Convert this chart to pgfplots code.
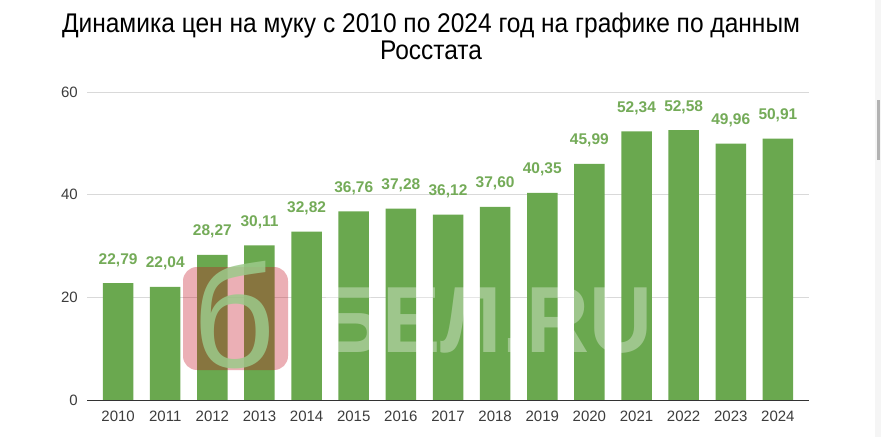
\documentclass[border=0pt]{standalone}
\usepackage{pgfplots}
\pgfplotsset{compat=1.18}
\usepackage{fontspec}
\setmainfont{Liberation Sans}
\usepackage{graphicx}
\definecolor{barg}{HTML}{6AA84F}
\definecolor{labg}{HTML}{74AB58}
\definecolor{tickc}{HTML}{3C3C3C}
\definecolor{gridc}{HTML}{D9D9D9}
\definecolor{axc}{HTML}{333333}
\definecolor{logored}{RGB}{195,15,31}
\definecolor{logob}{HTML}{9CC98A}
\pgfplotstableread{
x y lab
0 22.79 22,79
1 22.04 22,04
2 28.27 28,27
3 30.11 30,11
4 32.82 32,82
5 36.76 36,76
6 37.28 37,28
7 36.12 36,12
8 37.60 37,60
9 40.35 40,35
10 45.99 45,99
11 52.34 52,34
12 52.58 52,58
13 49.96 49,96
14 50.91 50,91
}\datatable
\begin{document}
\begin{tikzpicture}[x=1pt,y=1pt]
\useasboundingbox (0,0) rectangle (881,437);
\fill[white] (0,0) rectangle (881,437);
\begin{axis}[
  at={(87pt,37pt)}, anchor=south west,
  scale only axis, width=722pt, height=308pt,
  ybar, bar width=30.5pt,
  xmin=-0.66, xmax=14.66, ymin=0, ymax=60,
  ytick={0,20,40,60},
  xtick={0,...,14},
  xticklabels={2010,2011,2012,2013,2014,2015,2016,2017,2018,2019,2020,2021,2022,2023,2024},
  axis line style={draw=none},
  major tick length=0pt,
  ymajorgrids, grid style={gridc, line width=1pt},
  /pgf/number format/assume math mode=true,
  tick label style={font=\fontsize{15}{18}\selectfont, text=tickc, inner sep=0pt},
  yticklabel style={anchor=east, xshift=-9pt},
  xticklabel style={anchor=north, yshift=-11pt},
  clip=false,
  nodes near coords,
  point meta=explicit symbolic,
  every node near coord/.append style={font=\fontsize{15.5}{18}\selectfont\bfseries, text=labg, anchor=base, inner sep=0pt, yshift=19pt},
]
\addplot[fill=barg, draw=none] table[x=x, y=y, meta=lab] {\datatable};
\draw[axc, line width=1pt] (axis cs:-0.66,0) -- (axis cs:14.66,0);
\end{axis}
% title
\node[anchor=base, inner sep=0pt] at (431,404) {\resizebox{738pt}{\height}{\fontsize{27}{30}\selectfont Динамика цен на муку с 2010 по 2024 год на графике по данным}};
\node[anchor=base, inner sep=0pt] at (431,377) {\resizebox{102pt}{\height}{\fontsize{27}{30}\selectfont Росстата}};
% watermark
\fill[logored, opacity=0.33, rounded corners=14pt] (183,67) rectangle (288,170);
\node[anchor=base, inner sep=0pt, text=logob, opacity=0.85] at (234,70) {\fontsize{145}{145}\selectfont б};
\node[anchor=base west, inner sep=0pt, text=white, opacity=0.35] at (320,85) {\resizebox{332pt}{\height}{\fontsize{94}{94}\selectfont\bfseries БЕЛ.RU}};
% scrollbar
\fill[black!4] (875,0) rectangle (881,437);
\fill[black!30] (877,277) rectangle (880,337);
\end{tikzpicture}
\end{document}
